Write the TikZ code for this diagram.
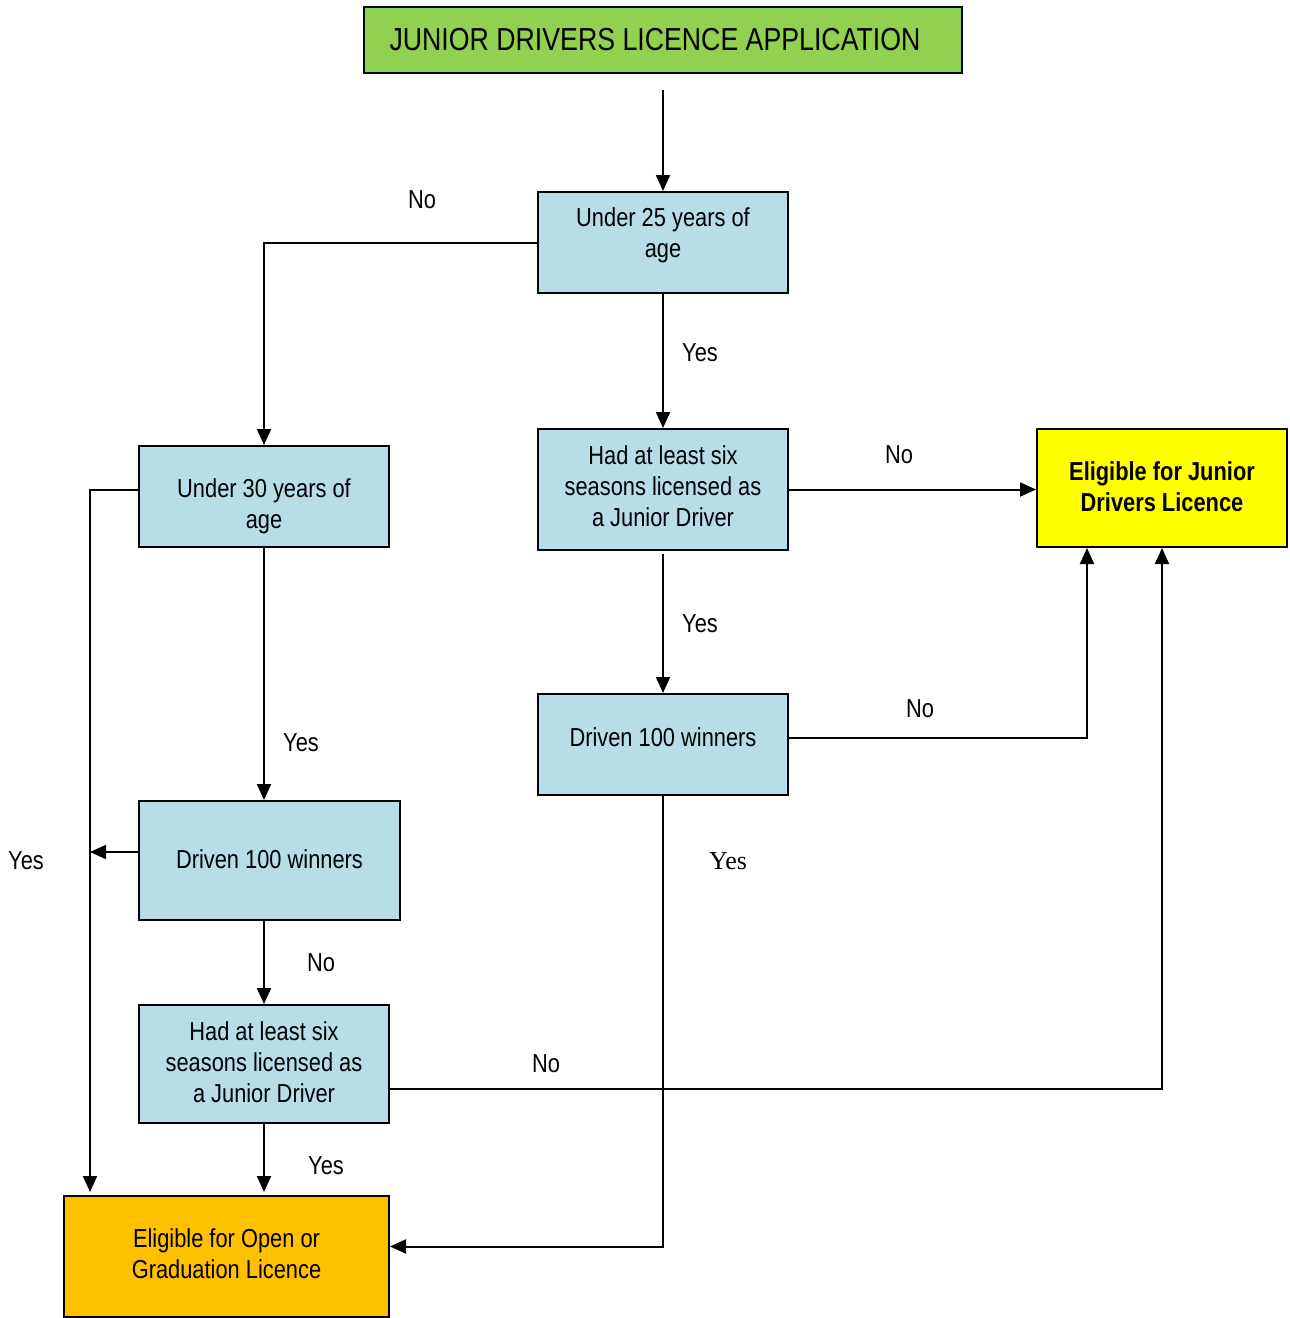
\documentclass[tikz,border=0pt]{standalone}
\usepackage{fontspec}
\setmainfont[FakeStretch=0.84]{Liberation Sans}
\newfontfamily\serifyes{Liberation Serif}
\usetikzlibrary{arrows.meta,calc}
\definecolor{boxblue}{HTML}{B7DDE8}
\definecolor{titlegreen}{HTML}{92D050}
\definecolor{juniory}{HTML}{FFFF00}
\definecolor{openorange}{HTML}{FFC000}
\tikzset{
  box/.style={draw=black, line width=2pt, fill=boxblue, inner sep=0pt},
  txt/.style={align=center, inner sep=0pt, font=\fontsize{26}{31}\selectfont},
  arr/.style={draw=black, line width=2pt, -{Triangle[length=16pt,width=14pt]}},
  lab/.style={font=\fontsize{26}{31}\selectfont, inner sep=0pt},
}
\begin{document}
\begin{tikzpicture}[x=1pt,y=-1pt]
\useasboundingbox (0,0) rectangle (1290,1318);
\fill[white] (0,0) rectangle (1290,1318);

\node[box, fill=titlegreen, minimum width=598pt, minimum height=66pt] (title) at (663,40) {};
\node[txt, font=\fontsize{31.8}{38}\selectfont] (titlet) at (655,40) {JUNIOR DRIVERS LICENCE APPLICATION};

\node[box, minimum width=250pt, minimum height=101pt] (b1) at (663,242.5) {};
\node[txt] (b1t) at (663,235.5) {Under 25 years of\\age};
\node[box, minimum width=250pt, minimum height=121pt] (b2) at (663,489.5) {};
\node[txt] (b2t) at (663,486.5) {Had at least six\\seasons licensed as\\a Junior Driver};
\node[box, minimum width=250pt, minimum height=101pt] (b3) at (663,744.5) {};
\node[txt] (b3t) at (663,737.5) {Driven 100 winners};
\node[box, fill=juniory, minimum width=250pt, minimum height=118pt] (jr) at (1162,488) {};
\node[txt, font=\fontsize{26}{31}\selectfont\bfseries] (jrt) at (1162,487) {Eligible for Junior\\Drivers Licence};
\node[box, minimum width=250pt, minimum height=101pt] (l1) at (264,496.5) {};
\node[txt] (l1t) at (264,506.5) {Under 30 years of\\age};
\node[box, minimum width=261pt, minimum height=119pt] (l2) at (269.5,860.5) {};
\node[txt] (l2t) at (269.5,859.5) {Driven 100 winners};
\node[box, minimum width=250pt, minimum height=118pt] (l3) at (264,1064) {};
\node[txt] (l3t) at (264,1062) {Had at least six\\seasons licensed as\\a Junior Driver};
\node[box, fill=openorange, minimum width=325pt, minimum height=121pt] (op) at (226.5,1256.5) {};
\node[txt] (opt) at (226.5,1253.5) {Eligible for Open or\\Graduation Licence};

\coordinate (start) at (663,90);
\coordinate (lv) at (90,0);
\coordinate (optop) at (90,1192);
\coordinate (optop2) at (264,1192);

% connectors
\draw[arr] (start) -- (b1.north);
\draw[arr] (b1.west) -| (l1.north);
\draw[arr] (b1.south) -- (b2.north);
\draw[arr] (b2.east) -- (b2.east -| jr.west);
\draw[arr] ([yshift=-3pt]b2.south) -- (b3.north);
\draw[arr] ([yshift=6.5pt]b3.east) -| ([xshift=-75pt]jr.south);
\draw[arr] (b3.south) |- ([yshift=10pt]op.east);
\draw[arr] ([yshift=6.5pt]l1.west) -| (optop);
\draw[arr] (l1.south) -- (l2.north -| l1.south);
\draw[arr] ([yshift=8.5pt]l2.west) -- ([yshift=8.5pt]l2.west -| lv);
\draw[arr] (l2.south -| l3.north) -- (l3.north);
\draw[arr] ([yshift=-25pt]l3.east) -| (jr.south);
\draw[arr] (l3.south) -- (optop2);

% labels
\node[lab] (n1) at (422,200) {No};
\node[lab] (y1) at (700,353) {Yes};
\node[lab] (n2) at (899,455) {No};
\node[lab] (y2) at (700,624) {Yes};
\node[lab] (n3) at (920,709) {No};
\node[lab, font=\serifyes\fontsize{26}{31}\selectfont] (y3) at (728,861) {Yes};
\node[lab] (y4) at (301,743) {Yes};
\node[lab] (y5) at (26,861) {Yes};
\node[lab] (n4) at (321,963) {No};
\node[lab] (n5) at (546,1064) {No};
\node[lab] (y6) at (326,1166) {Yes};
\end{tikzpicture}
\end{document}
